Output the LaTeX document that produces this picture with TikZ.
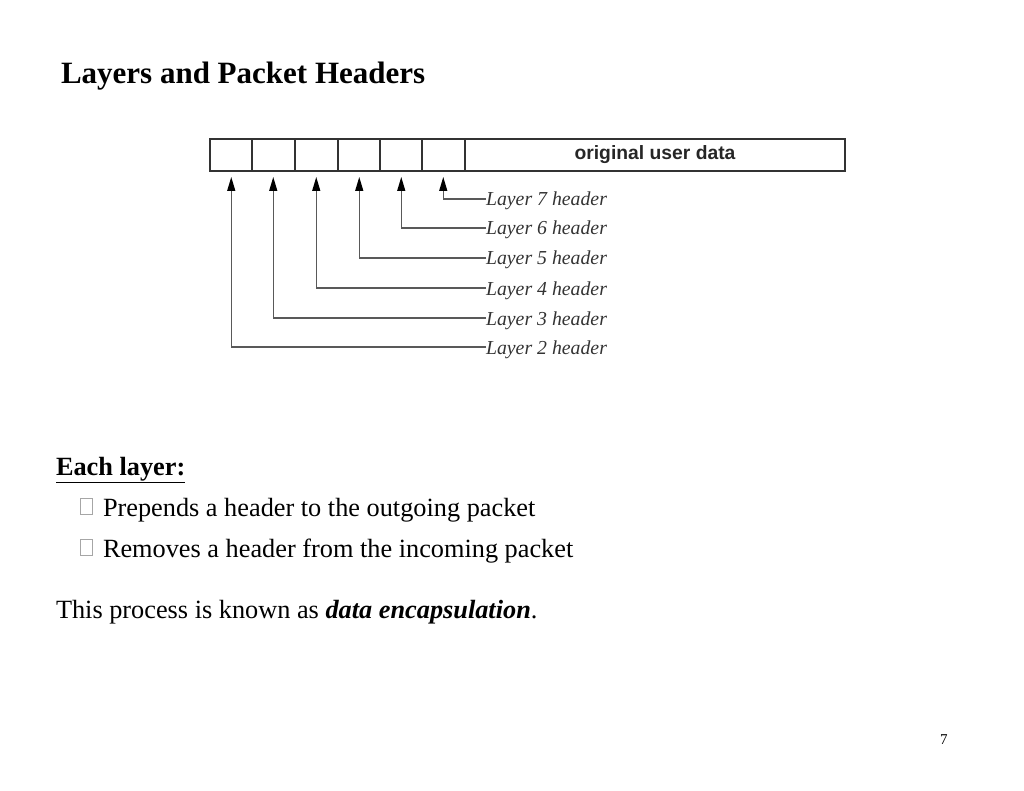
\documentclass[tikz,border=0pt]{standalone}
\usepackage{fontspec}
\setmainfont{Liberation Serif}
\newfontfamily\arialfont{Liberation Sans}
\usetikzlibrary{arrows.meta}
\begin{document}
\begin{tikzpicture}[x=1pt,y=-1pt,
  every node/.style={inner sep=0pt, outer sep=0pt},
  cell/.style={draw=black!80, line width=1.8pt, minimum height=32pt, anchor=north west},
  lbl/.style={anchor=base west, font=\fontsize{19.8}{19.8}\selectfont\itshape, text=black!80},
  conn/.style={draw=black!65, line width=1.3pt, shorten >=6pt, -{Triangle[length=14pt,width=8pt,color=black]}},
  body/.style={anchor=base west, font=\fontsize{26.3}{26.3}\selectfont},
  tofu/.style={draw=black!35, line width=0.6pt, minimum width=12pt, minimum height=16pt, anchor=south west}
]
\useasboundingbox (0,0) rectangle (1024,791);
\node[anchor=base west, font=\fontsize{31}{31}\selectfont\bfseries] (title) at (61,84) {Layers and Packet Headers};
% packet
\foreach \i/\x in {1/210,2/252,3/295,4/338,5/380,6/422} {
  \node[cell, minimum width=42.5pt] (c\i) at (\x,139) {};
}
\node[cell, minimum width=380pt] (data) at (465,139) {};
\node[font=\arialfont\fontsize{19.3}{19.3}\selectfont\bfseries, text=black!85] (dl) at (655,155) {original user data};
% labels
\foreach \n/\y in {7/206,6/235,5/265,4/295,3/325,2/354} {
  \node[lbl] (L\n) at (486,\y) {Layer \n\ header};
}
\foreach \c/\n/\y in {1/2/347,2/3/318,3/4/288,4/5/258,5/6/228,6/7/199} {
  \coordinate (b\n) at (L\n.west |- 0,\y);
  \draw[conn] (b\n) -| (c\c.south);
}
% text
\node[anchor=base west, font=\fontsize{26.3}{26.3}\selectfont\bfseries] (each) at (56,475) {\underline{Each layer:}};
\node[tofu] (t1) at (80,514) {};
\node[body] (p1) at (103,516) {Prepends a header to the outgoing packet};
\node[tofu] (t2) at (80,555) {};
\node[body] (p2) at (103,557) {Removes a header from the incoming packet};
\node[body] (p3) at (56,618) {This process is known as \textbf{\textit{data encapsulation}}.};
\node[anchor=base west, font=\fontsize{15}{15}\selectfont] (pg) at (940,744) {7};
\end{tikzpicture}
\end{document}
